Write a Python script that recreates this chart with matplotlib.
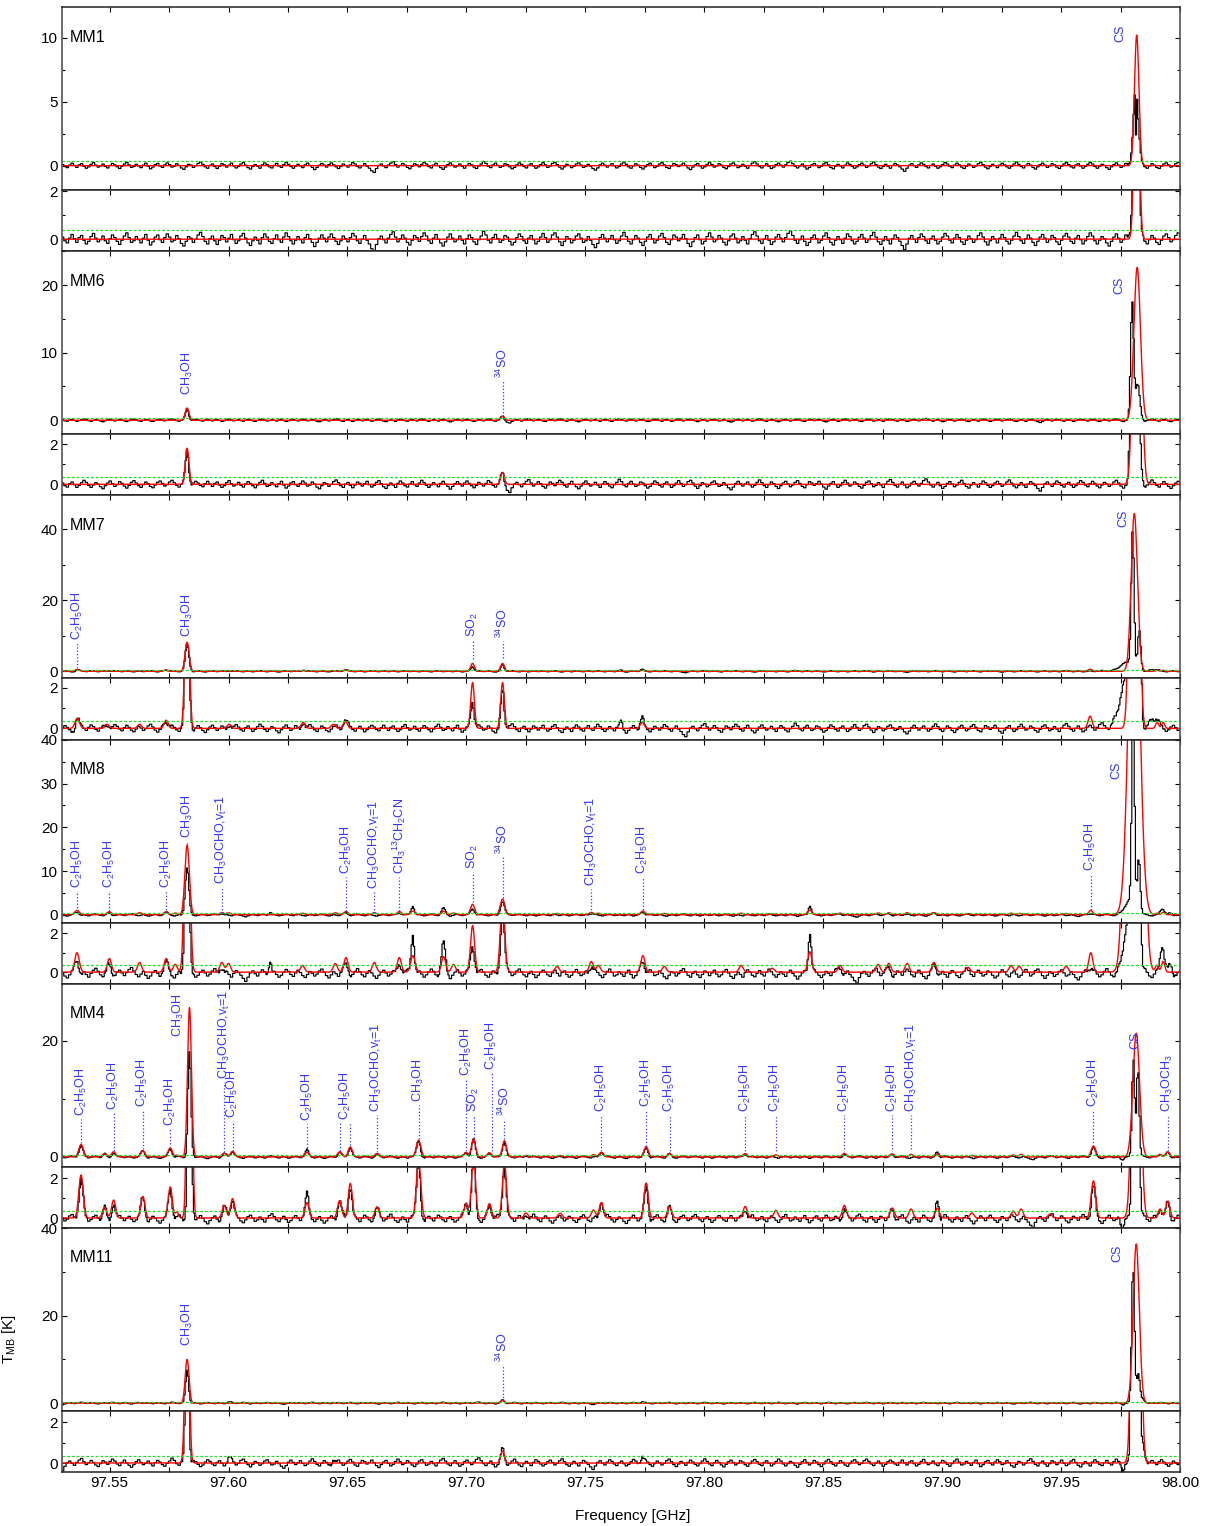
import numpy as np
import matplotlib
matplotlib.use("Agg")
import matplotlib.pyplot as plt
from matplotlib.ticker import MultipleLocator, FormatStrFormatter

plt.rcParams["font.family"] = ["Liberation Sans", "DejaVu Sans"]
plt.rcParams["mathtext.fontset"] = "custom"
plt.rcParams["mathtext.rm"] = "Liberation Sans"
plt.rcParams["mathtext.it"] = "Liberation Sans:italic"
plt.rcParams["mathtext.default"] = "regular"

F_MIN, F_MAX = 97.530, 98.000

NOISE = [
    4, -3, -7, 2, 9, 1, -6, 3, 7, -2, -9, -4, 5, 11, 2, -5, -1, 6, -3, -8, 1, 8, 3, -4,
    -10, -2, 6, 12, 3, -6, -3, 5, -1, -7, 2, 9, -2, -11, -5, 4, 8, -1, -6, 3, 10, 4, -5, -2,
    7, 1, -8, -13, -4, 5, 2, -6, 0, 8, 13, 5, -4, -9, 1, 6, -3, -10, -2, 7, 3, -5, 2, 9,
    -1, -8, -3, 6, 11, 2, -7, -12, -3, 4, -2, -9, 3, 10, 4, -4, -8, 1, 8, -1, -6, 4, 12, 5,
    -3, -9, -2, 5, -1, -7, 3, 9, 1, -6, -14, -6, 2, 8, 2, -5, 4, 10, 3, -4, -10, -3, 6, 1,
    -5, 3, 11, 6, -3, -8, 0, 7, -2, -9, -18, -24, -10, 1, 6, -1, -7, 2, 9, 14, 4, -5, 1, 8,
    2, -6, -11, -2, 7, 3, -4, 5, 12, 6, -3, -8, 2, 9, 0, -7, -13, -5, 4, 10, 2, -5, -1, 6,
    -2, -9, 1, 8, 3, -5, -10, -1, 6, 15, 8, -2, -7, 3, 9, 1, -6, -2, 7, 4, -4, -11, -6, 3,
    10, 5, -3, -8, 2, 7, -1, -9, -4, 4, 11, 3, -6, -1, 8, 12, 4, -5, -12, -4, 5, 1, -7, -2,
    6, 10, 2, -6, -3, 5, -2, -10, -16, -8, 3, 9, 2, -5, 1, 7, -1, -8, -3, 6, 13, 5, -4, -9,
    -1, 7, 2, -6, -12, -4, 4, 9, 1, -7, -2, 6, 11, 3, -6, -10, -1, 8, 4, -3, 2, 9, 1, -8,
    -14, -5, 3, 8, -1, -9, -4, 5, 12, 4, -5, -1, 7, 2, -6, -11, -3, 6, 10, 2, -7, -3, 5, -2,
    -9, 1, 9, 14, 6, -3, -8, 0, 7, -2, -10, -5, 4, 9, 2, -5, 3, 11, 16, 7, -2, -8, -1, 6,
    -4, -12, -6, 3, 8, 1, -7, -2, 6, 12, 3, -6, -11, -2, 5, -1, -8, 2, 10, 5, -3, -9, -4, 4,
    9, 2, -6, -1, 7, 13, 4, -5, -10, -3, 5, -2, -9, 1, 8, 3, -4, -12, -20, -9, 2, 7, 0, -6,
    3, 10, 5, -3, -8, 1, 6, -2, -9, -4, 4, 11, 6, -2, -7, 2, 9, 3, -5, -10, -2, 6, 1, -6,
    -1, 7, 12, 4, -5, -11, -3, 5, 0, -7, 2, 9, 3, -4, -9, -2, 6, 13, 5, -3, -8, 1, 8, 2,
    -6, -12, -4, 4, 9, 2, -6, -1, 7, 3, -5, -10, -2, 6, 11, 4, -4, -8, 2, 7, -1, -9, -3, 5,
    12, 6, -3, -9, -2, 5, 1, -7, -13, -4, 4, 10, 2, -6, -1, 8, 3, -5, -11, -3, 6, 11, 4, -4,
    -9, -1, 7, 2, -6, -10, -2, 6, 10, 3, -5, -1, 7, 12, 5, -3, -8, 0, 6, -2, -10, -4, 4, 9,
]

C2H5OH = r"C$_2$H$_5$OH"
CH3OH = r"CH$_3$OH"
MF = r"CH$_3$OCHO,v$_t$=1"
SO2 = r"SO$_2$"
SO34 = r"$^{34}$SO"
EC13 = r"CH$_3$$^{13}$CH$_2$CN"
DME = r"CH$_3$OCH$_3$"

# lines as (frequency GHz, peak K, FWHM MHz); labels as (frequency, text, text bottom K, line bottom K)
MM1_MODEL = [(97.9818, 10.2, 2.2)]
MM1_OBS = [(97.9814, 6.3, 2.4), (97.9815, -3.8, 0.5)]
MM1_LABELS = [(97.9748, "CS", 9.7, None)]

MM6_MODEL = [(97.5826, 1.8, 1.8), (97.7152, 0.6, 1.8), (97.9820, 22.6, 3.2)]
MM6_OBS = [(97.5826, 1.8, 1.6), (97.7152, 0.65, 1.5), (97.9799, 17.5, 1.5), (97.9822, 5.2, 2.2)]
MM6_LABELS = [(97.5826, CH3OH, 3.7, None), (97.7152, SO34, 6.2, 0.6), (97.9744, "CS", 18.7, None)]

MM7_MODEL = [
    (97.5364, 0.5, 2.2), (97.5490, 0.2, 2.0), (97.5626, 0.2, 2.0), (97.5738, 0.4, 2.0),
    (97.5826, 8.2, 2.0), (97.6003, 0.2, 2.0), (97.6314, 0.3, 2.0), (97.6440, 0.2, 2.0),
    (97.6491, 0.35, 2.0), (97.7026, 2.25, 1.8), (97.7152, 2.25, 1.8), (97.7739, 0.3, 2.0),
    (97.9622, 0.6, 2.0), (97.9808, 44.5, 3.1), (97.9904, 0.3, 1.5), (97.9929, 0.3, 1.5),
]
MM7_OBS = [
    (97.5364, 0.6, 2.0), (97.5490, 0.25, 2.0), (97.5738, 0.35, 2.0), (97.5826, 7.6, 1.8),
    (97.6003, 0.25, 1.5), (97.6314, 0.4, 1.5), (97.6491, 0.3, 2.0), (97.7026, 1.3, 1.6),
    (97.7152, 1.9, 1.6), (97.7651, 0.4, 1.0), (97.7739, 0.45, 1.6), (97.9778, 2.5, 7.0),
    (97.9801, 38.0, 1.4), (97.9829, 11.0, 1.4), (97.9890, 0.5, 4.0),
]
MM7_LABELS = [
    (97.5364, C2H5OH, 8.8, 0.8), (97.5826, CH3OH, 9.6, None), (97.7026, SO2, 9.6, 3.4),
    (97.7152, SO34, 9.3, 3.7), (97.9761, "CS", 40.8, None),
]

MM8_MODEL = [
    (97.5363, 1.0, 2.2), (97.5499, 0.7, 2.0), (97.5626, 0.5, 2.0), (97.5738, 0.7, 2.0),
    (97.5776, 0.4, 2.0), (97.5826, 15.9, 2.2), (97.5972, 0.5, 2.0), (97.6000, 0.45, 2.0),
    (97.6311, 0.35, 2.0), (97.6449, 0.45, 2.0), (97.6494, 0.75, 2.0), (97.6613, 0.5, 2.0),
    (97.6718, 0.75, 2.0), (97.6775, 0.85, 2.2), (97.6904, 0.8, 2.0), (97.6946, 0.4, 2.0),
    (97.7026, 2.4, 2.0), (97.7152, 3.6, 2.2), (97.7381, 0.3, 2.0), (97.7525, 0.55, 2.0),
    (97.7555, 0.35, 2.0), (97.7742, 0.85, 2.0), (97.7832, 0.3, 2.0), (97.8155, 0.35, 2.0),
    (97.8286, 0.2, 2.0), (97.8444, 1.05, 2.0), (97.8571, 0.35, 2.0), (97.8731, 0.4, 2.0),
    (97.8776, 0.45, 2.0), (97.8853, 0.45, 2.0), (97.8966, 0.5, 2.0), (97.9109, 0.25, 2.0),
    (97.9290, 0.35, 2.0), (97.9324, 0.3, 2.0), (97.9521, 0.3, 2.0), (97.9625, 1.0, 2.0),
    (97.9807, 88.0, 5.2), (97.9903, 0.35, 1.6), (97.9929, 0.55, 1.6),
]
MM8_OBS = [
    (97.5363, 0.6, 2.0), (97.5499, 0.5, 2.0), (97.5738, 0.5, 2.0), (97.5826, 10.8, 1.8),
    (97.6175, 0.75, 1.2), (97.5972, 0.4, 2.0), (97.6494, 0.5, 2.0), (97.6718, 0.6, 2.0),
    (97.6775, 2.05, 1.6), (97.6904, 1.6, 2.0), (97.7026, 1.5, 2.0), (97.7152, 3.1, 2.0),
    (97.7525, 0.4, 2.0), (97.7742, 0.6, 2.0), (97.8444, 2.15, 1.4), (97.8571, 0.3, 2.0),
    (97.8776, 0.35, 2.0), (97.8966, 0.35, 2.0), (97.9625, 0.3, 2.0), (97.9790, 3.5, 5.0),
    (97.9803, 50.0, 1.3), (97.9827, 12.5, 1.4), (97.9925, 1.4, 2.0), (97.9960, 0.6, 2.0),
]
MM8_LABELS = [
    (97.5363, C2H5OH, 6.1, 0.9), (97.5499, C2H5OH, 6.1, 0.9), (97.5738, C2H5OH, 6.1, 0.5),
    (97.5826, CH3OH, 17.5, 16.2), (97.5972, MF, 7.0, 0.5), (97.6494, C2H5OH, 9.3, 0.9),
    (97.6613, MF, 5.9, 0.5), (97.6718, EC13, 9.3, 0.75), (97.7026, SO2, 10.5, 2.8),
    (97.7152, SO34, 13.9, 3.9), (97.7525, MF, 6.6, 0.5), (97.7742, C2H5OH, 9.3, 0.5),
    (97.9625, C2H5OH, 10.0, 1.1), (97.9731, "CS", 31.1, None),
]

MM4_MODEL = [
    (97.5380, 2.15, 2.2), (97.5479, 0.55, 2.0), (97.5517, 0.9, 2.0), (97.5640, 1.07, 2.0),
    (97.5755, 1.55, 2.0), (97.5783, 0.3, 1.6), (97.5836, 25.7, 1.9), (97.5982, 0.63, 2.0),
    (97.6017, 0.97, 2.0), (97.6330, 0.77, 2.0), (97.6467, 0.87, 2.0), (97.6512, 1.73, 2.0),
    (97.6624, 0.56, 2.0), (97.6799, 2.9, 2.2), (97.6999, 0.75, 2.0), (97.7030, 3.1, 2.0),
    (97.7097, 0.72, 2.0), (97.7160, 2.8, 2.0), (97.7251, 0.25, 2.0), (97.7394, 0.24, 2.0),
    (97.7534, 0.4, 2.0), (97.7567, 0.77, 2.0), (97.7756, 1.75, 2.0), (97.7854, 0.58, 2.0),
    (97.8172, 0.58, 2.0), (97.8301, 0.38, 2.0), (97.8589, 0.63, 2.0), (97.8791, 0.5, 2.0),
    (97.8869, 0.45, 2.0), (97.8980, 0.5, 2.0), (97.9125, 0.25, 2.0), (97.9299, 0.35, 2.0),
    (97.9332, 0.45, 2.0), (97.9454, 0.2, 2.0), (97.9636, 1.86, 2.2), (97.9816, 21.3, 3.3),
    (97.9916, 0.45, 1.8), (97.9949, 0.85, 2.0),
]
MM4_OBS = [
    (97.5380, 2.1, 2.0), (97.5479, 0.6, 1.8), (97.5517, 0.9, 1.8), (97.5640, 1.0, 1.8),
    (97.5755, 1.5, 1.8), (97.5836, 18.4, 1.5), (97.5982, 0.6, 1.8), (97.6017, 0.95, 1.8),
    (97.6330, 1.1, 1.6), (97.6467, 0.85, 1.8), (97.6512, 1.7, 1.8), (97.6624, 0.5, 1.8),
    (97.6799, 2.9, 2.0), (97.6999, 0.7, 1.8), (97.7030, 3.0, 1.8), (97.7097, 0.7, 1.8),
    (97.7160, 2.7, 1.8), (97.7251, 0.3, 1.5), (97.7567, 0.9, 1.8), (97.7756, 1.7, 1.8),
    (97.7854, 0.55, 1.8), (97.8172, 0.55, 1.8), (97.8589, 0.6, 1.8), (97.8791, 0.45, 1.8),
    (97.8980, 0.9, 1.4), (97.9636, 1.6, 2.0), (97.9756, -0.4, 1.5), (97.9804, 17.0, 1.3),
    (97.9823, 15.5, 1.3), (97.9916, 0.5, 1.8), (97.9949, 0.9, 1.8),
]
MM4_LABELS = [
    (97.5380, C2H5OH, 7.1, 2.4), (97.5517, C2H5OH, 8.0, 1.0), (97.5640, C2H5OH, 8.6, 1.4),
    (97.5755, C2H5OH, 5.4, 2.2), (97.5789, CH3OH, 20.7, None), (97.5982, MF, 13.4, 0.8),
    (97.6017, C2H5OH, 6.7, 1.1), (97.6330, C2H5OH, 6.1, 1.1), (97.6467, "", 6.4, 1.1),
    (97.6491, C2H5OH, 6.3, None), (97.6512, "", 6.4, 2.1), (97.6624, MF, 7.8, 0.85),
    (97.6799, CH3OH, 9.5, 3.1), (97.6999, C2H5OH, 14.0, 1.1), (97.7030, SO2, 7.8, 3.3),
    (97.7107, C2H5OH, 14.9, 1.1), (97.7160, SO34, 7.1, 3.1), (97.7567, C2H5OH, 7.8, 1.1),
    (97.7756, C2H5OH, 8.6, 1.95), (97.7854, C2H5OH, 7.8, 1.1), (97.8172, C2H5OH, 7.8, 1.1),
    (97.8301, C2H5OH, 7.8, 1.1), (97.8589, C2H5OH, 7.8, 1.4), (97.8791, C2H5OH, 7.8, 1.4),
    (97.8869, MF, 7.8, 1.4), (97.9636, C2H5OH, 8.6, 1.95), (97.9811, "CS", 18.6, None),
    (97.9949, DME, 7.8, 1.1),
]

MM11_MODEL = [(97.5826, 10.0, 1.9), (97.7152, 0.6, 1.8), (97.9816, 36.4, 3.0)]
MM11_OBS = [
    (97.5826, 7.6, 1.5), (97.6003, 0.25, 1.5), (97.6440, 0.2, 1.5), (97.7152, 0.65, 1.6),
    (97.7739, 0.3, 1.5), (97.9760, -0.3, 1.2), (97.9803, 31.6, 1.4), (97.9825, 6.5, 1.6),
    (97.9845, 1.0, 2.0),
]
MM11_LABELS = [(97.5826, CH3OH, 13.0, None), (97.7152, SO34, 9.5, 0.45), (97.9735, "CS", 32.3, None)]

SOURCES = ["MM1", "MM6", "MM7", "MM8", "MM4", "MM11"]
MODELS = {"MM1": MM1_MODEL, "MM6": MM6_MODEL, "MM7": MM7_MODEL,
          "MM8": MM8_MODEL, "MM4": MM4_MODEL, "MM11": MM11_MODEL}
OBSERVED = {"MM1": MM1_OBS, "MM6": MM6_OBS, "MM7": MM7_OBS,
            "MM8": MM8_OBS, "MM4": MM4_OBS, "MM11": MM11_OBS}
LABELS = {"MM1": MM1_LABELS, "MM6": MM6_LABELS, "MM7": MM7_LABELS,
          "MM8": MM8_LABELS, "MM4": MM4_LABELS, "MM11": MM11_LABELS}
GREEN_LEVEL = {"MM1": 0.40, "MM6": 0.38, "MM7": 0.37, "MM8": 0.35, "MM4": 0.34, "MM11": 0.35}

# axis settings: main ylim, major, minor, zoom ylim, noise gain, shift, offset
PANEL = {
    "MM1": ((-1.9, 12.4), 5, 2.5, (-0.5, 2.05), 2.2, 0, 0.0),
    "MM6": ((-2.06, 25.0), 10, 5, (-0.55, 2.5), 1.7, 57, 0.0),
    "MM7": ((-2.0, 49.6), 20, 10, (-0.55, 2.45), 1.7, 131, 0.0),
    "MM8": ((-1.8, 40.05), 10, 5, (-0.6, 2.55), 2.0, 203, -0.08),
    "MM4": ((-1.7, 29.8), 20, 10, (-0.5, 2.56), 1.8, 277, -0.04),
    "MM11": ((-1.8, 40.05), 20, 10, (-0.45, 2.55), 1.6, 349, 0.0),
}

LABEL_BLUE = "#3535ff"
W, H = 1211, 1526
LEFT, RIGHT = 62, 1180
TOP0, BLOCK, MAIN_H = 7, 244.2, 183.0


def profile(freq, lines):
    y = np.zeros_like(freq)
    for f0, peak, fwhm in lines:
        y += peak * np.exp(-4 * np.log(2) * ((freq - f0) * 1000.0 / fwhm) ** 2)
    return y


chan = F_MIN + 0.0005 * np.arange(941)
fine = np.linspace(F_MIN, F_MAX, 4701)
noise = np.array(NOISE, dtype=float) * 0.01

fig = plt.figure(figsize=(W / 100, H / 100), dpi=100)

for k, name in enumerate(SOURCES):
    ylim_main, major, minor, ylim_zoom, gain, shift, offset = PANEL[name]
    base = np.repeat(np.roll(noise, shift), 2)[: chan.size] * gain + offset
    obs = profile(chan, OBSERVED[name]) + base
    mod = profile(fine, MODELS[name])

    y0 = TOP0 + k * BLOCK
    zoom_h = BLOCK - MAIN_H
    ax_main = fig.add_axes([LEFT / W, 1 - (y0 + MAIN_H) / H, (RIGHT - LEFT) / W, MAIN_H / H])
    ax_zoom = fig.add_axes([LEFT / W, 1 - (y0 + BLOCK) / H, (RIGHT - LEFT) / W, zoom_h / H])

    for ax, ylim, maj, mnr in ((ax_main, ylim_main, major, minor), (ax_zoom, ylim_zoom, 2, 1)):
        ax.plot(chan, obs, color="black", lw=0.85, drawstyle="steps-mid")
        ax.plot(fine, mod, color="red", lw=1.0)
        ax.axhline(GREEN_LEVEL[name], color="#1ee01e", lw=0.9, ls=(0, (2.2, 1.6)))
        ax.set_xlim(F_MIN, F_MAX)
        ax.set_ylim(*ylim)
        ax.xaxis.set_major_locator(MultipleLocator(0.05))
        ax.xaxis.set_minor_locator(MultipleLocator(0.025))
        ax.xaxis.set_major_formatter(FormatStrFormatter("%.2f"))
        ax.yaxis.set_major_locator(MultipleLocator(maj))
        ax.yaxis.set_minor_locator(MultipleLocator(mnr))
        ax.tick_params(which="both", direction="in", top=True, right=True, labelsize=11, pad=3)
        ax.tick_params(which="major", length=3.5, width=0.8)
        ax.tick_params(which="minor", length=2.5, width=0.8)
        ax.tick_params(axis="x", which="minor", length=3.5)
        for side in ("left", "right"):
            ax.spines[side].set_color("#555555")
            ax.spines[side].set_linewidth(1.2)
        for side in ("top", "bottom"):
            ax.spines[side].set_color("#222222")
            ax.spines[side].set_linewidth(1.1)
        if not (name == SOURCES[-1] and ax is ax_zoom):
            ax.tick_params(labelbottom=False)

    ax_main.text(0.007, 1 - 30 / MAIN_H, name, transform=ax_main.transAxes,
                 fontsize=11.5, ha="left", va="center")

    gap = 3.0 * (ylim_main[1] - ylim_main[0]) / MAIN_H
    for f, text, y_text, y_line in LABELS[name]:
        if text:
            ax_main.text(f, y_text, text, rotation=90, ha="center", va="bottom",
                         fontsize=9, color=LABEL_BLUE)
        if y_line is not None:
            ax_main.plot([f, f], [y_line, y_text - gap], color=LABEL_BLUE, lw=0.9, ls=":")

    if name == SOURCES[-1]:
        ax_main.set_ylabel(r"T$_\mathregular{MB}$ [K]", fontsize=11)
        ax_main.yaxis.set_label_coords(-0.039, 0.39)

fig.text(633 / W, 1 - 1516 / H, "Frequency [GHz]", ha="center", va="center", fontsize=11)

fig.savefig("out.png", dpi=100)
